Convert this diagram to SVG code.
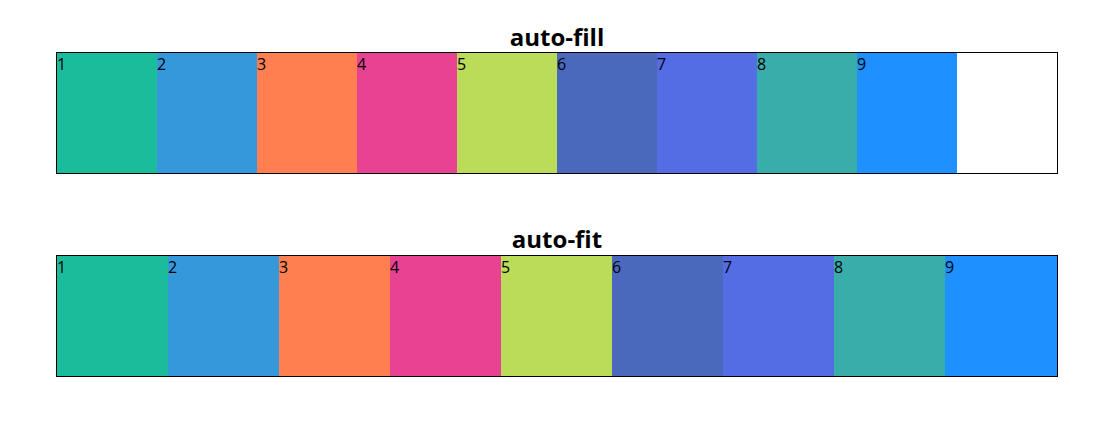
<svg xmlns="http://www.w3.org/2000/svg" width="1108" height="421" viewBox="0 0 1108 421">
<style>
.t{font-family:"Open Sans","Noto Sans",sans-serif;font-weight:bold;font-size:24px;text-anchor:middle;fill:#000}
.n{font-family:"Open Sans","Noto Sans",sans-serif;font-size:16px;fill:#000}
.b{fill:none;stroke:#000;stroke-width:1}
rect{shape-rendering:crispEdges}
</style>
<rect width="1108" height="421" fill="#fff"/>
<g id="fill">
<text class="t" x="557" y="46">auto-fill</text>
<rect x="57" y="53" width="100" height="120" fill="#1abc9c"/>
<rect x="157" y="53" width="100" height="120" fill="#3498db"/>
<rect x="257" y="53" width="100" height="120" fill="#ff7f50"/>
<rect x="357" y="53" width="100" height="120" fill="#e84393"/>
<rect x="457" y="53" width="100" height="120" fill="#badc58"/>
<rect x="557" y="53" width="100" height="120" fill="#4a69bd"/>
<rect x="657" y="53" width="100" height="120" fill="#546de5"/>
<rect x="757" y="53" width="100" height="120" fill="#38ada9"/>
<rect x="857" y="53" width="100" height="120" fill="#1e90ff"/>
<text class="n" x="57" y="70">1</text>
<text class="n" x="157" y="70">2</text>
<text class="n" x="257" y="70">3</text>
<text class="n" x="357" y="70">4</text>
<text class="n" x="457" y="70">5</text>
<text class="n" x="557" y="70">6</text>
<text class="n" x="657" y="70">7</text>
<text class="n" x="757" y="70">8</text>
<text class="n" x="857" y="70">9</text>
<rect class="b" x="56.5" y="52.5" width="1001" height="121"/>
</g>
<g id="fit">
<text class="t" x="557" y="248">auto-fit</text>
<rect x="57" y="256" width="112" height="120" fill="#1abc9c"/>
<rect x="168" y="256" width="112" height="120" fill="#3498db"/>
<rect x="279" y="256" width="112" height="120" fill="#ff7f50"/>
<rect x="390" y="256" width="112" height="120" fill="#e84393"/>
<rect x="501" y="256" width="112" height="120" fill="#badc58"/>
<rect x="612" y="256" width="112" height="120" fill="#4a69bd"/>
<rect x="723" y="256" width="112" height="120" fill="#546de5"/>
<rect x="834" y="256" width="112" height="120" fill="#38ada9"/>
<rect x="945" y="256" width="112" height="120" fill="#1e90ff"/>
<text class="n" x="57" y="273">1</text>
<text class="n" x="168" y="273">2</text>
<text class="n" x="279" y="273">3</text>
<text class="n" x="390" y="273">4</text>
<text class="n" x="501" y="273">5</text>
<text class="n" x="612" y="273">6</text>
<text class="n" x="723" y="273">7</text>
<text class="n" x="834" y="273">8</text>
<text class="n" x="945" y="273">9</text>
<rect class="b" x="56.5" y="255.5" width="1001" height="121"/>
</g>
<g id="connectors"></g>
</svg>
